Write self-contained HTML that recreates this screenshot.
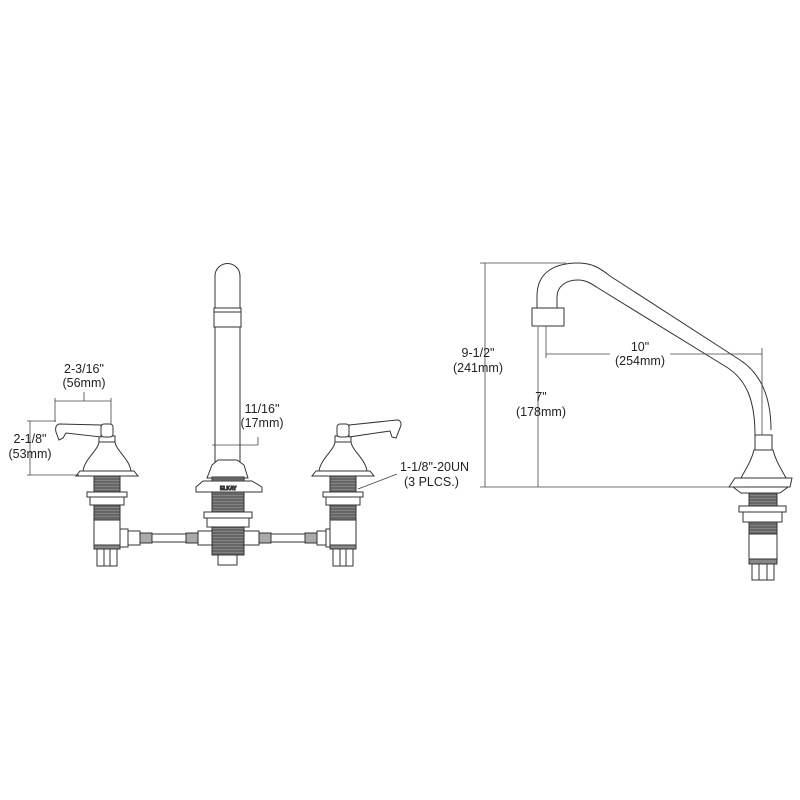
<!DOCTYPE html>
<html><head><meta charset="utf-8"><style>
html,body{margin:0;padding:0;background:#fff}
svg{display:block}
text{font-family:"Liberation Sans",sans-serif;font-size:12.5px;fill:#222}
</style></head><body>
<svg width="800" height="800" viewBox="0 0 800 800" xmlns="http://www.w3.org/2000/svg">
<defs>
<pattern id="th" width="4" height="3" patternUnits="userSpaceOnUse">
<rect width="4" height="3" fill="#666"/><line x1="0" y1="0.5" x2="4" y2="0.5" stroke="#8a8a8a" stroke-width="0.8"/>
</pattern>
<g id="valve" stroke="#333" stroke-width="1" fill="#fff">
<path d="M-8,441 C-8,450 -22,458 -24,471 L24,471 C22,458 8,450 8,441 Z"/>
<rect x="-8" y="436" width="16" height="6"/>
<rect x="-6" y="424" width="12" height="13" rx="3"/>
<path d="M-27,471 L27,471 L31,476 L-31,476 Z"/>
<rect x="-13" y="476" width="26" height="16" fill="url(#th)"/>
<rect x="-20" y="492" width="40" height="5"/>
<rect x="-17" y="497" width="34" height="8"/>
<rect x="-13" y="505" width="26" height="15" fill="url(#th)"/>
<rect x="-13" y="520" width="26" height="27"/>
<rect x="-13" y="545" width="26" height="4" fill="#888"/>
<rect x="-10" y="549" width="20" height="17"/>
<line x1="-3" y1="549" x2="-3" y2="566"/><line x1="3" y1="549" x2="3" y2="566"/>
</g>
<g id="hose" stroke="#333" stroke-width="1" fill="#fff">
<rect x="0" y="531" width="16" height="14"/>
<rect x="16" y="533" width="12" height="10" fill="#aaa"/>
<rect x="28" y="534" width="34" height="8"/>
<rect x="62" y="533" width="12" height="10" fill="#aaa"/>
<rect x="74" y="531" width="14" height="14"/>
</g>
</defs>

<use href="#hose" x="124"/>
<use href="#hose" x="243"/>
<rect x="120" y="529" width="8" height="18" fill="#fff" stroke="#333"/>
<rect x="326" y="529" width="8" height="18" fill="#fff" stroke="#333"/>
<use href="#valve" x="107"/>
<path d="M101,425 L60,424 C56,424 55,428 56,432 L59,440 L63,438 L66,433 L101,437 Z" fill="#fff" stroke="#333"/>
<use href="#valve" x="343"/>
<path d="M349,425 L397,420 C401,420 402,424 400,428 L396,438 L392,437 L390,431 L349,437 Z" fill="#fff" stroke="#333"/>

<g stroke="#333" stroke-width="1" fill="#fff">
<path d="M215,463 L215,276 A12.5,12.5 0 0 1 240,276 L240,463 Z"/>
<rect x="214" y="308" width="27" height="19"/>
<line x1="214" y1="312" x2="241" y2="312"/>
<path d="M212,465 L218,460 L237,460 L244,465 L248,478 L207,478 Z"/>
<rect x="212" y="477" width="32" height="5" fill="url(#th)"/>
<path d="M203,481 L252,481 L262,487 L262,492 L196,492 L196,487 Z"/>
<text x="220" y="490" style="font-size:5px;font-weight:bold">ELKAY</text>
<rect x="212" y="492" width="32" height="20" fill="url(#th)"/>
<rect x="204" y="512" width="48" height="6"/>
<rect x="207" y="518" width="42" height="9"/>
<rect x="212" y="527" width="32" height="28" fill="url(#th)"/>
<rect x="218" y="555" width="19" height="10"/>
</g>

<g stroke="#444" stroke-width="0.8" fill="none">
<line x1="55" y1="401" x2="111" y2="401"/>
<line x1="55" y1="398" x2="55" y2="422"/>
<line x1="111" y1="398" x2="111" y2="424"/>
<line x1="84" y1="392" x2="84" y2="401"/>
<line x1="30" y1="421" x2="30" y2="475"/>
<line x1="27" y1="421" x2="56" y2="421"/>
<line x1="27" y1="475" x2="79" y2="475"/>
<line x1="212" y1="445" x2="258" y2="445"/>
<line x1="258" y1="437" x2="258" y2="445"/>
<line x1="397" y1="474" x2="358" y2="489"/>
</g>
<text x="84" y="373" text-anchor="middle">2-3/16"</text>
<text x="84" y="387" text-anchor="middle">(56mm)</text>
<text x="30" y="443" text-anchor="middle">2-1/8"</text>
<text x="30" y="458" text-anchor="middle">(53mm)</text>
<text x="262" y="413" text-anchor="middle">11/16"</text>
<text x="262" y="427" text-anchor="middle">(17mm)</text>
<text x="400" y="471">1-1/8"-20UN</text>
<text x="404" y="486">(3 PLCS.)</text>

<g stroke="#333" stroke-width="1" fill="none">
<path d="M537,309 L537,296 C537,270 558,263 578,263 C592,263 600,268 610,276 L740,360 C760,373 771,395 771,430"/>
<path d="M557,309 L557,297 C557,287 565,280 578,280 C586,280 592,284 598,288 L728,368 C746,380 755,400 755,435"/>
<rect x="532" y="308" width="32" height="18" fill="#fff"/>
</g>
<g stroke="#333" stroke-width="1" fill="#fff">
<rect x="755" y="435" width="17" height="15"/>
<path d="M754,450 L773,450 C776,462 782,470 786,478 L741,478 C745,470 751,462 754,450 Z"/>
<path d="M735,478 L792,478 L790,487 L729,487 Z"/>
<path d="M733,487 L788,487 L780,493 L741,493 Z"/>
<rect x="749" y="493" width="28" height="14" fill="url(#th)"/>
<rect x="739" y="506" width="47" height="6"/>
<rect x="743" y="512" width="39" height="10"/>
<rect x="749" y="522" width="28" height="12" fill="url(#th)"/>
<rect x="749" y="534" width="28" height="25"/>
<rect x="749" y="559" width="28" height="5" fill="#888"/>
<rect x="752" y="564" width="22" height="16"/>
<line x1="759" y1="564" x2="759" y2="580"/><line x1="767" y1="564" x2="767" y2="580"/>
</g>
<g stroke="#444" stroke-width="0.8" fill="none">
<line x1="480" y1="263" x2="566" y2="263"/>
<line x1="485" y1="263" x2="485" y2="487"/>
<line x1="480" y1="487" x2="745" y2="487"/>
<line x1="538" y1="327" x2="538" y2="487"/>
<line x1="546" y1="326" x2="546" y2="358"/>
<line x1="546" y1="354" x2="610" y2="354"/>
<line x1="670" y1="354" x2="762" y2="354"/>
<line x1="762" y1="348" x2="762" y2="435"/>
</g>
<text x="478" y="357" text-anchor="middle">9-1/2"</text>
<text x="478" y="372" text-anchor="middle">(241mm)</text>
<text x="640" y="351" text-anchor="middle">10"</text>
<text x="640" y="365" text-anchor="middle">(254mm)</text>
<text x="541" y="401" text-anchor="middle">7"</text>
<text x="541" y="416" text-anchor="middle">(178mm)</text>
</svg>
</body></html>
